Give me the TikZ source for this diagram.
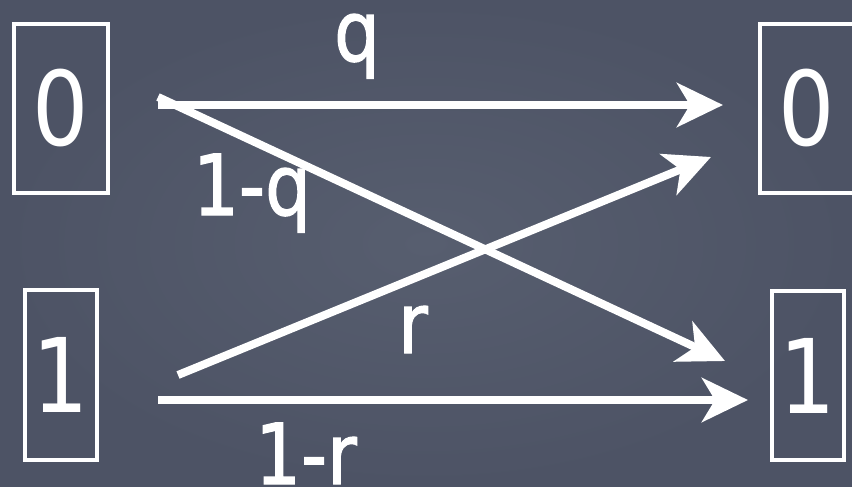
\documentclass[tikz,border=0pt]{standalone}
\usepackage{fontspec}
\setmainfont{DejaVu Sans}
\newfontfamily\chalkfont[FakeBold=1.5]{DejaVu Sans}
\usetikzlibrary{arrows.meta}
\definecolor{board}{HTML}{575E6F}
\definecolor{boardedge}{HTML}{4D5365}
\newcommand{\narrow}[1]{\scalebox{0.86}[1]{#1}}
\begin{document}
\begin{tikzpicture}[x=1pt,y=-1pt,
  statebox/.style={draw=white,line width=4.5pt,inner sep=0pt,text=white,
    font=\fontsize{103}{110}\selectfont},
  trans/.style={draw=white,line width=8pt,
    -{Stealth[length=46pt,width=44pt,inset=13pt]}},
  prob/.style={text=white,inner sep=0pt,anchor=base,
    font=\chalkfont\fontsize{84}{90}\selectfont}]
  \shade[inner color=board,outer color=boardedge] (0,0) rectangle (852,487);
  \useasboundingbox (0,0) rectangle (852,487);
  % states
  \node[statebox,minimum width=94pt,minimum height=169pt] (a0) at (61,108.5) {\narrow{0}};
  \node[statebox,minimum width=94pt,minimum height=169pt] (b0) at (807,108.5) {\narrow{0}};
  \node[statebox,minimum width=72pt,minimum height=170pt] (a1) at (61,375) {\narrow{1}};
  \node[statebox,minimum width=72pt,minimum height=169pt] (b1) at (808,375.5) {\narrow{1}};
  % connector ends
  \coordinate (s00) at (158,105);
  \coordinate (e00) at (723,105);
  \coordinate (s01) at (158,97);
  \coordinate (e01) at (725,361);
  \coordinate (s10) at (178,375);
  \coordinate (e10) at (711,157);
  \coordinate (s11) at (158,400);
  \coordinate (e11) at (748,400);
  \draw[trans] (s00) -- (e00);
  \draw[trans] (s01) -- (e01);
  \draw[trans] (s10) -- (e10);
  \draw[trans] (s11) -- (e11);
  % labels
  \node[prob] (lq) at (357,61) {\narrow{q}};
  \node[prob] (l1q) at (252,215) {\narrow{1-q}};
  \node[prob] (lr) at (413,353) {\narrow{r}};
  \node[prob] (l1r) at (306,484) {\narrow{1-r}};
\end{tikzpicture}
\end{document}
